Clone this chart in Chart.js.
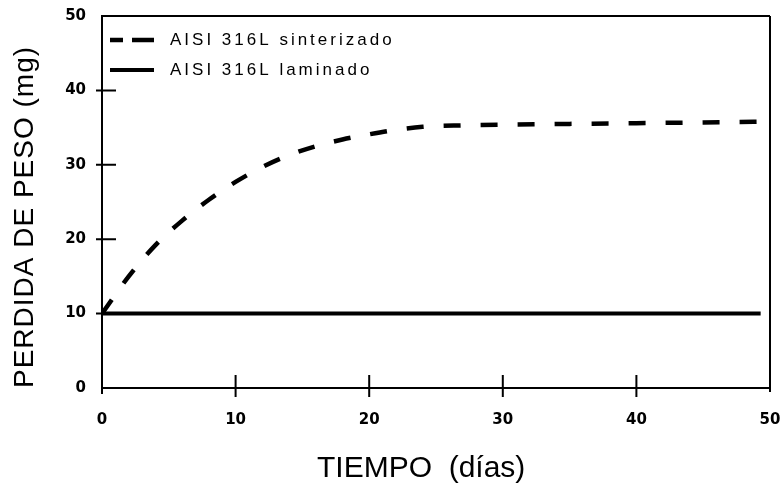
<!DOCTYPE html>
<html>
<head>
<meta charset="utf-8">
<script src="https://cdn.jsdelivr.net/npm/chart.js@4/dist/chart.umd.min.js"></script>
<style>
  html, body { margin: 0; padding: 0; background: #fff; }
  #wrap { width: 784px; height: 483px; }
</style>
</head>
<body>
<div id="wrap"><canvas id="chart" width="784" height="483"></canvas></div>
<script>
// dias de ensayo y perdida de peso (mg)
const diasSint = [0, 2, 4, 6, 8, 10, 12, 14, 16, 18, 20, 22, 24, 27, 30, 35, 40, 45, 49.4];
const pesoSint = [10, 15, 19.2, 22.5, 25.3, 27.7, 29.7, 31.3, 32.5, 33.4, 34.1, 34.7, 35.1, 35.3, 35.4, 35.5, 35.6, 35.7, 35.8];
const diasLam = [0, 10, 20, 30, 40, 49.3];
const pesoLam = [10, 10, 10, 10, 10, 10];
const ticksX = [0, 10, 20, 30, 40, 50];
const ticksY = [0, 10, 20, 30, 40, 50];
const nombres = ['AISI 316L sinterizado', 'AISI 316L laminado'];

const puntos = (xs, ys) => xs.map((x, i) => ({ x: x, y: ys[i] }));

const black = '#000';
const textFont = '"Liberation Sans", Arial, Helvetica, sans-serif';

// marco superior/derecho, marcas de los ejes, leyenda y titulos
const extras = {
    id: 'extras',
    afterDraw(chart) {
        const ctx = chart.ctx;
        const a = chart.chartArea;
        const sx = chart.scales.x;
        const sy = chart.scales.y;
        ctx.save();
        ctx.strokeStyle = black;
        ctx.lineWidth = 2;
        ctx.beginPath();
        ctx.moveTo(a.left, a.top);
        ctx.lineTo(a.right, a.top);
        ctx.moveTo(a.right, a.top);
        ctx.lineTo(a.right, a.bottom + 4);
        ctx.moveTo(a.left, a.top);
        ctx.lineTo(a.left, a.bottom + 6);
        ctx.stroke();

        // marcas que cruzan los ejes
        ctx.lineWidth = 2;
        ctx.beginPath();
        ticksX.slice(1, -1).forEach(v => {
            const px = sx.getPixelForValue(v);
            ctx.moveTo(px, a.bottom - 13);
            ctx.lineTo(px, a.bottom + 9);
        });
        ticksY.slice(1, -1).forEach(v => {
            const py = sy.getPixelForValue(v);
            ctx.moveTo(a.left - 6, py);
            ctx.lineTo(a.left + 14, py);
        });
        ctx.stroke();

        // leyenda dentro del area
        const lx = a.left + 8;
        const ly = [a.top + 24, a.top + 54];
        ctx.lineWidth = 4.5;
        ctx.beginPath();
        ctx.moveTo(lx, ly[0]);
        ctx.lineTo(lx + 13, ly[0]);
        ctx.moveTo(lx + 22, ly[0]);
        ctx.lineTo(lx + 44, ly[0]);
        ctx.stroke();
        ctx.lineWidth = 4;
        ctx.beginPath();
        ctx.moveTo(lx, ly[1]);
        ctx.lineTo(lx + 44, ly[1]);
        ctx.stroke();

        ctx.fillStyle = black;
        ctx.textBaseline = 'middle';
        ctx.textAlign = 'left';
        ctx.font = '17px ' + textFont;
        ctx.letterSpacing = '3px';
        nombres.forEach((n, i) => ctx.fillText(n, lx + 60, ly[i]));

        // titulos de los ejes
        ctx.letterSpacing = '0px';
        ctx.textBaseline = 'alphabetic';
        ctx.font = '30px ' + textFont;
        ctx.fillText('TIEMPO  (días)', a.left + 215, a.bottom + 89);

        ctx.save();
        ctx.translate(33, a.bottom);
        ctx.rotate(-Math.PI / 2);
        ctx.font = '28px ' + textFont;
        ctx.letterSpacing = '1px';
        ctx.fillText('PERDIDA DE PESO (mg)', 0, 0);
        ctx.restore();

        ctx.restore();
    }
};

const ctx1 = document.getElementById('chart').getContext('2d');
const myChart1 = new Chart(ctx1, {
    type: 'line',
    data: {
        datasets: [{
            label: nombres[0],
            data: puntos(diasSint, pesoSint),
            borderColor: black,
            borderWidth: 4.5,
            borderDash: [17, 20],
            borderCapStyle: 'butt',
            cubicInterpolationMode: 'monotone',
            pointRadius: 0,
            fill: false
        }, {
            label: nombres[1],
            data: puntos(diasLam, pesoLam),
            borderColor: black,
            borderWidth: 4,
            pointRadius: 0,
            fill: false
        }]
    },
    options: {
        responsive: false,
        animation: false,
        layout: { padding: { top: 16, right: 14, left: 0, bottom: 0 } },
        plugins: {
            legend: { display: false },
            tooltip: { enabled: false }
        },
        scales: {
            x: {
                type: 'linear',
                min: 0,
                max: 50,
                afterFit: s => {
                    s.height = 95;
                    s.paddingLeft = 0;
                    s.paddingRight = 0;
                },
                afterBuildTicks: s => { s.ticks = ticksX.map(v => ({ value: v })); },
                grid: { display: false, drawTicks: false },
                border: { display: true, color: black, width: 2 },
                ticks: {
                    padding: 23,
                    color: black,
                    font: { family: '"DejaVu Sans"', size: 15, weight: 'bold' }
                }
            },
            y: {
                type: 'linear',
                min: 0,
                max: 50,
                afterFit: s => {
                    s.width = 102;
                    s.paddingTop = 0;
                    s.paddingBottom = 0;
                },
                afterBuildTicks: s => { s.ticks = ticksY.map(v => ({ value: v })); },
                grid: { display: false, drawTicks: false },
                border: { display: true, color: black, width: 2 },
                ticks: {
                    padding: 16,
                    color: black,
                    font: { family: '"DejaVu Sans"', size: 15, weight: 'bold' }
                }
            }
        }
    },
    plugins: [extras]
});
</script>
</body>
</html>
